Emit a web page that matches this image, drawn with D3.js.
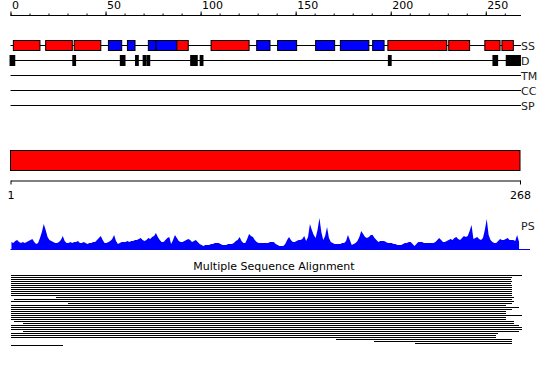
<!DOCTYPE html>
<html><head><meta charset="utf-8">
<script src="https://cdn.jsdelivr.net/npm/d3@7"></script>
<style>body{margin:0;background:#fff}svg{display:block;font-family:"DejaVu Sans",sans-serif}</style>
</head><body><svg id="c" width="550" height="367"></svg>
<script>
const seqLength = 268;
const majorTicks = [0,50,100,150,200,250];
const minorTicks = d3.range(0, 261, 10);
const ssSegments = [
  [2,15,"H"],[19,32,"H"],[34,47,"H"],[52,58,"E"],[62,65,"E"],[73,76,"E"],[77,88,"E"],[88,93,"H"],
  [106,125,"H"],[130,136,"E"],[141,150,"E"],[161,170,"E"],[174,188,"E"],[191,196,"E"],
  [199,229,"H"],[231,241,"H"],[250,257,"H"],[259,264,"H"]
];
const disorder = [[0,2],[33,34],[58,60],[66,67],[70,71],[72,73],[95,98],[100,101],[199,200],[254,256],[261,268]];
const trackLabels = ["SS","D","TM","CC","SP"];
const psScores = [
  8,7,9,10,8,7,8,7,8,9,
  10,11,8,6,7,12,18,26,20,13,
  10,9,8,7,7,8,10,14,9,7,
  7,8,7,8,8,9,7,7,8,7,
  6,7,7,8,8,10,12,14,10,7,
  7,8,9,11,15,9,6,7,8,8,
  8,9,8,9,9,10,10,11,12,10,
  9,10,12,11,13,14,17,13,10,8,
  8,10,12,13,6,10,15,12,9,8,
  8,9,10,11,10,8,9,10,8,6,
  5,4,5,5,5,6,6,7,7,7,
  6,5,5,5,6,6,6,7,9,10,
  13,9,7,7,11,16,14,13,10,8,
  7,7,7,7,7,7,8,8,8,6,
  5,4,4,4,6,10,13,10,8,8,
  9,10,10,11,14,9,13,26,20,15,
  12,20,32,18,10,14,23,12,8,7,
  6,6,6,6,7,7,9,15,10,5,
  6,7,9,13,19,16,13,12,13,15,
  15,12,10,8,9,9,9,8,7,7,
  7,6,6,5,5,5,6,7,7,8,
  8,6,4,6,8,8,8,7,7,7,
  7,7,7,8,10,12,10,8,8,9,
  10,11,10,12,13,11,10,12,14,13,
  14,19,25,11,12,13,11,10,12,20,
  31,15,10,8,7,7,9,11,10,10,
  11,12,10,10,10,9,15,8
];
const msaStart = [0.5,0.5,0.5,0.5,0.5,0.5,0.5,0.5,0.5,0.5,0.5,23.7,1.6,0.5,30.5,0.5,0.5,0.5,0.5,0.5,0.5,0.5,0.5,1.6,6.8,0.5,0.5,0.5,6.8,0.5,0.5,0.5,171,191,213,0.5];
const msaEnd   = [268.9,263.7,263.2,263.7,263.2,263.7,263.7,263.7,263.7,263.7,263.7,264.7,263.7,264.7,263.7,260.5,267.3,263.7,260.5,260.5,268.9,260.5,260.5,264.7,264.7,267.3,268.9,268.9,267.3,256.3,255.3,255.3,263.7,263.7,263.7,27.4];

const svg = d3.select("#c");
const x = d3.scaleLinear().domain([0, seqLength]).range([10.5, 520]);

// top axis
const gTop = svg.append("g").attr("transform","translate(0,15.5)");
gTop.call(d3.axisTop(x).tickValues(minorTicks).tickSize(2).tickSizeOuter(0).tickFormat(""));
gTop.append("g").call(d3.axisTop(x).tickValues(majorTicks).tickSize(4).tickSizeOuter(0))
  .call(g => g.select(".domain").remove());
gTop.selectAll("text").attr("text-anchor","start").attr("dx","1").attr("y",-6.5).attr("dy",0)
  .attr("font-size",11).attr("font-family","DejaVu Sans").attr("fill","#000");
gTop.select(".domain").attr("d", `M${x(0)},0H${x(seqLength)+1}`);

// track lines
const trackY = {SS:45, D:60, TM:75, CC:90, SP:105};
trackLabels.forEach(k => {
  svg.append("line").attr("x1", x(0)).attr("x2", 521).attr("y1", trackY[k]+0.5).attr("y2", trackY[k]+0.5)
    .attr("stroke","#000").attr("stroke-width",1);
  svg.append("text").attr("x",521).attr("y",trackY[k]+4.5).attr("font-size",11).attr("fill","#222").text(k);
});

// SS boxes
svg.append("g").selectAll("rect").data(ssSegments).join("rect")
  .attr("x", d => x(d[0]-0.5)).attr("width", d => x(d[1]+0.5)-x(d[0]-0.5))
  .attr("y", 40.5).attr("height", 10)
  .attr("fill", d => d[2]==="H" ? "#ff0000" : "#0000ff")
  .attr("stroke","#000").attr("stroke-width",1);

// disorder boxes
svg.append("g").selectAll("rect").data(disorder).join("rect")
  .attr("x", d => x(d[0]-0.5)).attr("width", d => x(d[1]+0.5)-x(d[0]-0.5))
  .attr("y", 55).attr("height", 11).attr("fill","#000");

// red domain bar
svg.append("rect").attr("x", x(0)).attr("width", x(seqLength)-x(0)).attr("y",150.5).attr("height",20)
  .attr("fill","#ff0000").attr("stroke","#000").attr("stroke-width",1);

// bottom axis
const x2 = d3.scaleLinear().domain([1, seqLength]).range([10.5, 520]);
const gBot = svg.append("g").attr("transform","translate(0,180.5)");
gBot.call(d3.axisBottom(x2).tickValues([1, seqLength]).tickSize(4).tickSizeOuter(0).tickPadding(7));
gBot.selectAll("text").attr("font-size",11).attr("font-family","DejaVu Sans").attr("fill","#000");

// PS profile
const yPS = d3.scaleLinear().domain([0, 35]).range([250, 215]);
const area = d3.area().x((d,i) => x(i+0.5)).y0(250).y1(d => yPS(d));
svg.append("path").datum(psScores).attr("d", area).attr("fill","#0000ff");
svg.append("line").attr("x1", x(0)).attr("x2", 530).attr("y1",249.5).attr("y2",249.5).attr("stroke","#0000ff");
svg.append("text").attr("x",521).attr("y",230).attr("font-size",11).attr("fill","#222").text("PS");

// MSA
svg.append("text").attr("x",274).attr("y",270).attr("text-anchor","middle").attr("font-size",11).attr("fill","#000")
  .text("Multiple Sequence Alignment");
svg.append("g").selectAll("rect").data(msaStart).join("rect")
  .attr("x", d => x(d)).attr("width", (d,i) => x(msaEnd[i]) - x(d))
  .attr("y", (d,i) => 275 + 2*i).attr("height", 1).attr("fill","#000")
  .attr("shape-rendering","crispEdges");
</script></body></html>
